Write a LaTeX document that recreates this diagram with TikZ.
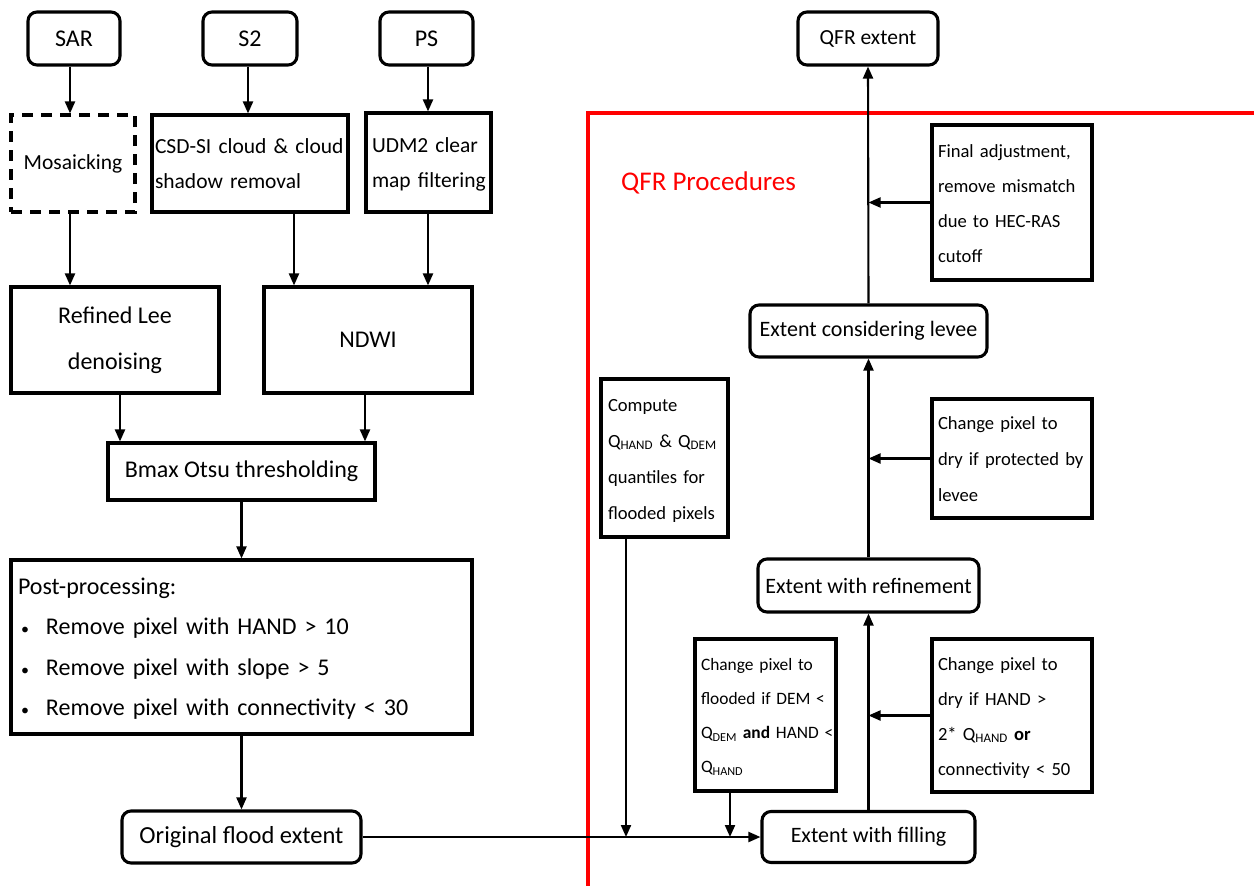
\documentclass[tikz,border=0pt]{standalone}
\usepackage{fontspec}
\setmainfont{Carlito}
\usetikzlibrary{arrows.meta}
\newcommand{\sbt}[1]{\textsubscript{#1}}
\newcommand{\tl}[1]{\begin{tabular}{@{}l@{}}#1\end{tabular}}
\begin{document}
\begin{tikzpicture}[x=1pt,y=-1pt,
  box/.style={draw, line width=3.1pt, inner sep=0pt, align=center},
  rbox/.style={box, rounded corners=9pt},
  lbox/.style={box, align=left, inner xsep=6pt, font=\fontsize{18.6}{35}\selectfont},
  arr/.style={line width=2.1pt, -{Triangle[length=12pt,width=10pt]}},
  fa/.style={font=\fontsize{24}{46}\selectfont},
  fb/.style={font=\fontsize{22}{35}\selectfont},
  fc/.style={font=\fontsize{21.5}{35}\selectfont}
]
\useasboundingbox (0,0) rectangle (1254,886);

% red frame
\draw[red, line width=3.2pt] (588,886) -- (588,113) -- (1254,113);
\node[anchor=west, text=red, font=\fontsize{27}{32}\selectfont, inner sep=0pt] (qfrp) at (621,183) {QFR Procedures};

% left column
\node[rbox, fa, minimum width=92pt, minimum height=53pt] (sar) at (74,38.5) {SAR};
\node[rbox, fa, minimum width=94pt, minimum height=53pt] (s2) at (250,38.5) {S2};
\node[rbox, fa, minimum width=93pt, minimum height=53pt] (ps) at (426.5,38.5) {PS};

\node[box, dash pattern=on 11pt off 8pt, fc, minimum width=124pt, minimum height=97pt] (mos) at (73,163.5) {Mosaicking};
\node[box, fc, align=left, text width=190pt, inner xsep=3pt, minimum height=97pt] (csd) at (250,163.5) {\tl{CSD-SI cloud \& cloud\\shadow removal}};
\node[box, fc, align=left, text width=113pt, inner xsep=6pt, minimum height=99pt] (udm) at (428.5,162.5) {\tl{UDM2 clear\\map filtering}};

\node[box, fa, minimum width=208pt, minimum height=106pt] (lee) at (115,340) {Refined Lee\\denoising};
\node[box, fa, minimum width=208pt, minimum height=106pt] (ndwi) at (368,340) {NDWI};
\node[box, fa, minimum width=267pt, minimum height=57pt] (bmax) at (241.5,471.5) {Bmax Otsu thresholding};
\node[box, align=left, text width=447pt, inner xsep=7pt, minimum height=174pt, font=\fontsize{24}{40.5}\selectfont] (post) at (241.5,647)
  {\tl{Post-processing:\\
   \makebox[28pt][l]{\hspace{3pt}\fontsize{16}{16}\selectfont\textbullet}Remove pixel with HAND > 10\\
   \makebox[28pt][l]{\hspace{3pt}\fontsize{16}{16}\selectfont\textbullet}Remove pixel with slope > 5\\
   \makebox[28pt][l]{\hspace{3pt}\fontsize{16}{16}\selectfont\textbullet}Remove pixel with connectivity < 30}};
\node[rbox, font=\fontsize{24.5}{30}\selectfont, minimum width=239pt, minimum height=52pt] (orig) at (241.5,837) {Original flood extent};

% right column
\node[rbox, fc, minimum width=140pt, minimum height=53pt] (qfr) at (868,38.5) {QFR extent};
\node[lbox, text width=148pt, minimum height=155pt] (final) at (1012,202.5) {\tl{Final adjustment,\\remove mismatch\\due to HEC-RAS\\cutoff}};
\node[rbox, fb, minimum width=237pt, minimum height=52pt] (levee) at (868.5,331) {Extent considering levee};
\node[lbox, text width=113pt, inner xsep=7pt, minimum height=158pt, font=\fontsize{18.6}{36}\selectfont] (comp) at (664.5,458) {\tl{Compute\\Q\sbt{HAND} \& Q\sbt{DEM}\\quantiles for\\flooded pixels}};
\node[lbox, text width=148pt, minimum height=119pt, font=\fontsize{18.6}{36}\selectfont] (prot) at (1012,458.5) {\tl{Change pixel to\\dry if protected by\\levee}};
\node[rbox, fb, minimum width=221pt, minimum height=53pt] (refine) at (868.5,585.5) {Extent with refinement};
\node[lbox, text width=129pt, minimum height=152pt, font=\fontsize{17.4}{34}\selectfont] (flood) at (765.5,715) {\tl{Change pixel to\\flooded if DEM <\\Q\sbt{DEM} \textbf{and} HAND <\\Q\sbt{HAND}}};
\node[lbox, text width=148pt, minimum height=153pt] (dry) at (1012,715.5) {\tl{Change pixel to\\dry if HAND >\\2* Q\sbt{HAND} \textbf{or}\\connectivity < 50}};
\node[rbox, fb, minimum width=213pt, minimum height=51pt] (fill) at (868.5,837) {Extent with filling};

% left connectors
\draw[arr] ([xshift=-4pt]sar.south) -- ([xshift=-4pt]sar.south |- mos.north);
\draw[arr] ([xshift=-2pt]s2.south) -- ([xshift=-2pt]s2.south |- csd.north);
\draw[arr] ([xshift=1.5pt]ps.south) -- ([xshift=1.5pt]ps.south |- udm.north);
\draw[arr] ([xshift=-3pt]mos.south) -- ([xshift=-3pt]mos.south |- lee.north);
\draw[arr] ([xshift=44pt]csd.south) -- ([xshift=44pt]csd.south |- ndwi.north);
\draw[arr] ([xshift=-0.5pt]udm.south) -- ([xshift=-0.5pt]udm.south |- ndwi.north);
\draw[arr] ([xshift=5pt]lee.south) -- ([xshift=5pt]lee.south |- bmax.north);
\draw[arr] ([xshift=-3pt]ndwi.south) -- ([xshift=-3pt]ndwi.south |- bmax.north);
\draw[arr] (bmax.south) -- (post.north);
\draw[arr] (post.south) -- (orig.north);

% bottom line
\draw[arr] (orig.east) -- (fill.west);
\draw[arr] ([xshift=-38.5pt]comp.south) -- ([xshift=-38.5pt]comp.south |- fill.west);
\draw[arr] ([xshift=-35.5pt]flood.south) -- ([xshift=-35.5pt]flood.south |- fill.west);

% right vertical chain
\draw[arr] (fill.north) -- (refine.south);
\draw[arr] (refine.north) -- (levee.south);
\draw[arr] (levee.north) -- (qfr.south);
\draw[arr] (dry.west) -- (dry.west -| fill.north);
\draw[arr] (prot.west) -- (prot.west -| fill.north);
\draw[arr] (final.west) -- (final.west -| fill.north);
\end{tikzpicture}
\end{document}
